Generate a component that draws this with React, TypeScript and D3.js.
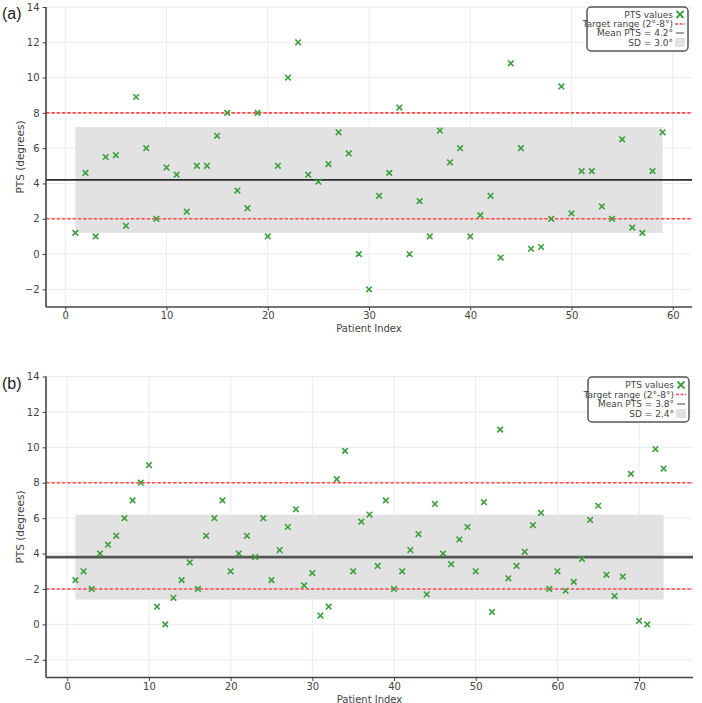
import React, { useEffect, useRef } from "react";
import * as d3 from "d3";

// PTS measurements per patient, cohort (a)
const ptsA = [
  1.2, 4.6, 1.0, 5.5, 5.6, 1.6, 8.9, 6.0, 2.0, 4.9,
  4.5, 2.4, 5.0, 5.0, 6.7, 8.0, 3.6, 2.6, 8.0, 1.0,
  5.0, 10.0, 12.0, 4.5, 4.1, 5.1, 6.9, 5.7, 0.0, -2.0,
  3.3, 4.6, 8.3, 0.0, 3.0, 1.0, 7.0, 5.2, 6.0, 1.0,
  2.2, 3.3, -0.2, 10.8, 6.0, 0.3, 0.4, 2.0, 9.5, 2.3,
  4.7, 4.7, 2.7, 2.0, 6.5, 1.5, 1.2, 4.7, 6.9,
];

// PTS measurements per patient, cohort (b)
const ptsB = [
  2.5, 3.0, 2.0, 4.0, 4.5, 5.0, 6.0, 7.0, 8.0, 9.0,
  1.0, 0.0, 1.5, 2.5, 3.5, 2.0, 5.0, 6.0, 7.0, 3.0,
  4.0, 5.0, 3.8, 6.0, 2.5, 4.2, 5.5, 6.5, 2.2, 2.9,
  0.5, 1.0, 8.2, 9.8, 3.0, 5.8, 6.2, 3.3, 7.0, 2.0,
  3.0, 4.2, 5.1, 1.7, 6.8, 4.0, 3.4, 4.8, 5.5, 3.0,
  6.9, 0.7, 11.0, 2.6, 3.3, 4.1, 5.6, 6.3, 2.0, 3.0,
  1.9, 2.4, 3.7, 5.9, 6.7, 2.8, 1.6, 2.7, 8.5, 0.2,
  0.0, 9.9, 8.8,
];

const meanA = 4.2;
const sdA = 3.0;
const meanB = 3.8;
const sdB = 2.4;
const targetRange = [2, 8];

const yTicks = [-2, 0, 2, 4, 6, 8, 10, 12, 14];
const xTicksA = [0, 10, 20, 30, 40, 50, 60];
const xTicksB = [0, 10, 20, 30, 40, 50, 60, 70];

const FONT = "DejaVu Sans, sans-serif";
const GREEN = "#3d9e3d";
const RED = "#ff4a4a";

type PanelProps = {
  tag: string;
  values: number[];
  mean: number;
  sd: number;
  xTicks: number[];
  top: number;
  bottom: number;
  right: number;
  meanColor: string;
  meanWidth: number;
  legendBox: { x: number; y: number; w: number; h: number };
  legendRows: number[];
};

const Panel = (p: PanelProps) => {
  const ref = useRef<SVGGElement>(null);

  useEffect(() => {
    const g = d3.select(ref.current);
    g.selectAll("*").remove();

    const left = 46;
    const n = p.values.length;
    const pad = (n - 1) * 0.05;

    const x = d3.scaleLinear().domain([1 - pad, n + pad]).range([left, p.right]);
    const y = d3.scaleLinear().domain([-3, 14]).range([p.bottom, p.top]);

    // grid
    g.append("g")
      .selectAll("line")
      .data(yTicks)
      .join("line")
      .attr("x1", left)
      .attr("x2", p.right)
      .attr("y1", (d) => y(d))
      .attr("y2", (d) => y(d))
      .attr("stroke", "#ececec")
      .attr("stroke-width", 1);
    g.append("g")
      .selectAll("line")
      .data(p.xTicks)
      .join("line")
      .attr("x1", (d) => x(d))
      .attr("x2", (d) => x(d))
      .attr("y1", p.top)
      .attr("y2", p.bottom)
      .attr("stroke", "#ececec")
      .attr("stroke-width", 1);

    // SD band
    g.append("rect")
      .attr("x", x(1))
      .attr("width", x(n) - x(1))
      .attr("y", y(p.mean + p.sd))
      .attr("height", y(p.mean - p.sd) - y(p.mean + p.sd))
      .attr("fill", "#e2e2e2");

    // mean line
    g.append("line")
      .attr("x1", left)
      .attr("x2", p.right)
      .attr("y1", y(p.mean))
      .attr("y2", y(p.mean))
      .attr("stroke", p.meanColor)
      .attr("stroke-width", p.meanWidth);

    // target range lines
    g.append("g")
      .selectAll("line")
      .data(targetRange)
      .join("line")
      .attr("x1", left)
      .attr("x2", p.right)
      .attr("y1", (d) => y(d))
      .attr("y2", (d) => y(d))
      .attr("stroke", RED)
      .attr("stroke-width", 1.6)
      .attr("stroke-dasharray", "3.5,1.8");

    // x markers
    const s = 2.8;
    g.append("g")
      .selectAll("path")
      .data(p.values)
      .join("path")
      .attr("transform", (d, i) => `translate(${x(i + 1)},${y(d)})`)
      .attr("d", `M${-s},${-s}L${s},${s}M${-s},${s}L${s},${-s}`)
      .attr("stroke", GREEN)
      .attr("stroke-width", 1.6)
      .attr("fill", "none");

    // axes
    const xAxis = g
      .append("g")
      .attr("transform", `translate(0,${p.bottom})`)
      .call(d3.axisBottom(x).tickValues(p.xTicks).tickSize(3.5).tickPadding(1.5).tickFormat(d3.format("d")));
    const yAxis = g
      .append("g")
      .attr("transform", `translate(${left},0)`)
      .call(
        d3
          .axisLeft(y)
          .tickValues(yTicks)
          .tickSize(3.5)
          .tickPadding(3)
          .tickFormat((d) => (Number(d) < 0 ? `\u2212${Math.abs(Number(d))}` : `${d}`))
      );
    [xAxis, yAxis].forEach((a) => {
      a.select(".domain").attr("stroke", "#444").attr("stroke-width", 1.6);
      a.selectAll(".tick line").attr("stroke", "#444").attr("stroke-width", 1);
      a.selectAll(".tick text")
        .attr("fill", "#444")
        .style("font-family", FONT)
        .style("font-size", "10px");
    });
    // drop the outer tick stubs so the spine ends cleanly
    xAxis.select(".domain").attr("d", `M${left},0H${p.right}`);
    yAxis.select(".domain").attr("d", `M0,${p.bottom}V${p.top}`);

    // axis titles
    g.append("text")
      .attr("x", (left + p.right) / 2)
      .attr("y", p.bottom + 25)
      .attr("text-anchor", "middle")
      .attr("fill", "#444")
      .style("font-family", FONT)
      .style("font-size", "10px")
      .text("Patient Index");
    g.append("text")
      .attr("transform", `translate(20,${(p.top + p.bottom) / 2}) rotate(-90)`)
      .attr("text-anchor", "middle")
      .attr("dominant-baseline", "central")
      .attr("fill", "#444")
      .style("font-family", FONT)
      .style("font-size", "10.5px")
      .text("PTS (degrees)");

    // panel tag
    g.append("text")
      .attr("x", 2)
      .attr("y", p.top + 12)
      .attr("fill", "#222")
      .style("font-family", "Liberation Sans, Arial, sans-serif")
      .style("font-size", "16px")
      .text(p.tag);

    // legend
    const lb = p.legendBox;
    const leg = g.append("g");
    leg
      .append("rect")
      .attr("x", lb.x)
      .attr("y", lb.y)
      .attr("width", lb.w)
      .attr("height", lb.h)
      .attr("rx", 4)
      .attr("fill", "white")
      .attr("stroke", "#555")
      .attr("stroke-width", 1.5);
    const labels = [
      "PTS values",
      "Target range (2°-8°)",
      `Mean PTS = ${p.mean.toFixed(1)}°`,
      `SD = ${p.sd.toFixed(1)}°`,
    ];
    const tx = lb.x + lb.w - 15;
    const mx = lb.x + lb.w - 8;
    leg
      .selectAll("text")
      .data(labels)
      .join("text")
      .attr("x", tx)
      .attr("y", (d, i) => p.legendRows[i])
      .attr("text-anchor", "end")
      .attr("dominant-baseline", "central")
      .attr("fill", "#444")
      .style("font-family", FONT)
      .style("font-size", "9px")
      .text((d) => d);
    const r0 = p.legendRows;
    const ls = 3.5;
    leg
      .append("path")
      .attr("d", `M${mx - ls},${r0[0] - ls}L${mx + ls},${r0[0] + ls}M${mx - ls},${r0[0] + ls}L${mx + ls},${r0[0] - ls}`)
      .attr("stroke", GREEN)
      .attr("stroke-width", 1.8);
    leg
      .append("line")
      .attr("x1", mx - 5)
      .attr("x2", mx + 5)
      .attr("y1", r0[1])
      .attr("y2", r0[1])
      .attr("stroke", RED)
      .attr("stroke-width", 1.6)
      .attr("stroke-dasharray", "3,1.5");
    leg
      .append("line")
      .attr("x1", mx - 4)
      .attr("x2", mx + 4)
      .attr("y1", r0[2])
      .attr("y2", r0[2])
      .attr("stroke", "#444")
      .attr("stroke-width", 1);
    leg
      .append("rect")
      .attr("x", mx - 5)
      .attr("y", r0[3] - 4.5)
      .attr("width", 10)
      .attr("height", 9)
      .attr("fill", "#e2e2e2");
  }, [p]);

  return <g ref={ref} />;
};

const App = () => {
  return (
    <svg
      width={702}
      height={703}
      style={{ position: "absolute", left: 0, top: 0, background: "white" }}
    >
      <Panel
        tag="(a)"
        values={ptsA}
        mean={meanA}
        sd={sdA}
        xTicks={xTicksA}
        top={7}
        bottom={307}
        right={692}
        meanColor="#2a2a2a"
        meanWidth={1.8}
        legendBox={{ x: 587, y: 7, w: 101, h: 44 }}
        legendRows={[14.5, 24, 33, 42.5]}
      />
      <Panel
        tag="(b)"
        values={ptsB}
        mean={meanB}
        sd={sdB}
        xTicks={xTicksB}
        top={376.5}
        bottom={677.5}
        right={693}
        meanColor="#555"
        meanWidth={2.6}
        legendBox={{ x: 588, y: 377, w: 101, h: 45 }}
        legendRows={[385, 394.5, 404, 413.5]}
      />
    </svg>
  );
};

export default App;
